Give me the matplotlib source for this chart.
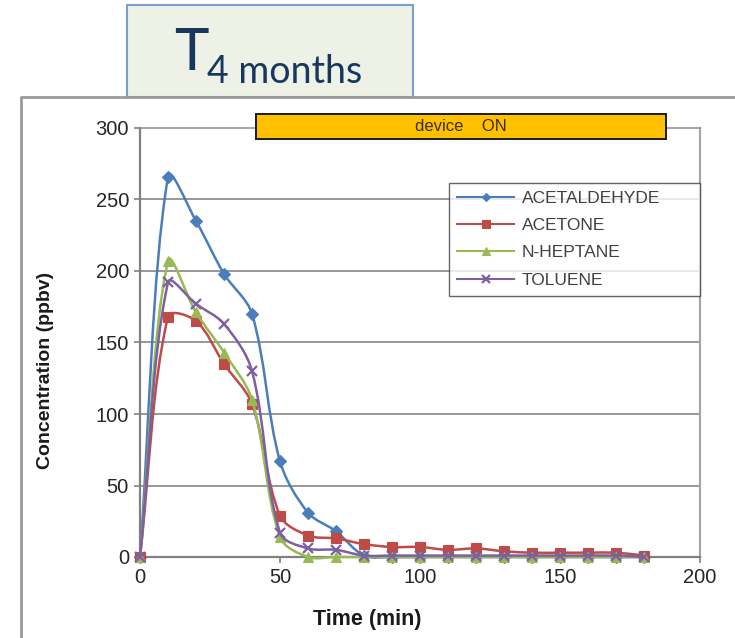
import numpy as np
import matplotlib
matplotlib.use("Agg")
import matplotlib.pyplot as plt
from matplotlib.path import Path
from matplotlib.patches import PathPatch, Rectangle
from matplotlib.lines import Line2D

plt.rcParams["font.family"] = ["Liberation Sans", "DejaVu Sans"]

# Data
time_min = [0, 10, 20, 30, 40, 50, 60, 70, 80, 90, 100, 110, 120, 130, 140, 150, 160, 170, 180]
acetaldehyde = [0, 266, 235, 198, 170, 67, 31, 18, 1, 0, 0, 0, 0, 0, 0, 0, 0, 0, 0]
acetone = [0, 168, 165, 135, 107, 29, 15, 13, 9, 7, 7, 5, 6, 4, 3, 3, 3, 3, 1]
n_heptane = [0, 207, 171, 143, 110, 14, 0, 0, 0, 0, 0, 0, 0, 0, 0, 0, 0, 0, 0]
toluene = [0, 192, 177, 163, 130, 17, 6, 5, 1, 1, 1, 1, 1, 1, 1, 1, 1, 1, 0]

series_names = ["ACETALDEHYDE", "ACETONE", "N-HEPTANE", "TOLUENE"]
series_values = [acetaldehyde, acetone, n_heptane, toluene]
series_colors = ["#4A7EBB", "#BE4B48", "#98B954", "#7D60A0"]
series_markers = ["D", "s", "^", "x"]
series_msize = [6, 7.5, 7, 7]

device_on = (41.6, 187.9)   # minutes, span of the "device ON" bar
y_ticks = [0, 50, 100, 150, 200, 250, 300]
x_ticks = [0, 50, 100, 150, 200]


def smooth_path(ax, xs, ys):
    # Excel-like smoothed line: cubic Bezier with length-weighted tangents
    pts = ax.transData.transform(np.column_stack([xs, ys]))
    n = len(pts)
    verts = [pts[0]]
    codes = [Path.MOVETO]
    for i in range(n - 1):
        p0 = pts[i - 1] if i > 0 else pts[i]
        p1, p2 = pts[i], pts[i + 1]
        p3 = pts[i + 2] if i + 2 < n else pts[i + 1]
        d01 = np.linalg.norm(p1 - p0)
        d12 = np.linalg.norm(p2 - p1)
        d23 = np.linalg.norm(p3 - p2)
        f1 = d12 / (d01 + d12) / 3 if d01 + d12 > 0 else 0
        f2 = d12 / (d12 + d23) / 3 if d12 + d23 > 0 else 0
        c1 = p1 + (p2 - p0) * f1
        c2 = p2 - (p3 - p1) * f2
        verts += [c1, c2, p2]
        codes += [Path.CURVE4] * 3
    verts = ax.transData.inverted().transform(np.array(verts))
    return Path(verts, codes)


fig = plt.figure(figsize=(7.35, 6.38), dpi=100)
ax = fig.add_axes([140 / 735, 81 / 638, 560 / 735, 429 / 638])
ax.set_xlim(0, 200)
ax.set_ylim(0, 300)
ax.set_xticks(x_ticks)
ax.set_yticks(y_ticks)
ax.tick_params(axis="both", direction="out", length=4, width=1.2, color="#808080",
               labelsize=14.5, labelcolor="#262626", pad=4)

for y in y_ticks[1:-1]:
    ax.axhline(y, color="#7a7a7a", lw=1.1, zorder=1)
ax.spines["left"].set_color("#808080")
ax.spines["left"].set_linewidth(1.6)
ax.spines["bottom"].set_color("#808080")
ax.spines["bottom"].set_linewidth(1.6)
ax.spines["right"].set_color("#a6a6a6")
ax.spines["right"].set_linewidth(1.6)
ax.spines["top"].set_color("#8c8c8c")
ax.spines["top"].set_linewidth(1.1)

handles = []
for k, (name, vals, col, mk, ms) in enumerate(zip(series_names, series_values, series_colors,
                                                  series_markers, series_msize)):
    path = smooth_path(ax, time_min, vals)
    ax.add_patch(PathPatch(path, facecolor="none", edgecolor=col, lw=1.8,
                           zorder=3 + k, clip_on=False))
    mew = 1.6 if mk == "x" else 0.8
    ax.plot(time_min, vals, linestyle="none", marker=mk, ms=ms, color=col,
            mec=col, mew=mew, zorder=3 + k, clip_on=False)
    handles.append(Line2D([], [], color=col, lw=1.5, marker=mk,
                          ms=ms * 0.75, mew=mew, label=name))

leg = ax.legend(handles=handles, loc="upper left",
                bbox_to_anchor=(0.552, 0.608, 0.448, 0.264), mode="expand",
                fontsize=12.5, frameon=True, fancybox=False, borderpad=0.45,
                labelspacing=0.7, handlelength=3.3, handletextpad=0.45,
                borderaxespad=0)
leg.get_frame().set_edgecolor("#404040")
leg.get_frame().set_linewidth(1.0)
for t in leg.get_texts():
    t.set_color("#404040")
leg.set_zorder(10)

# device ON bar
ax.add_patch(Rectangle((device_on[0], 292.3), device_on[1] - device_on[0], 17.5,
                       facecolor="#FFC000", edgecolor="#1a1a1a", lw=1.4,
                       clip_on=False, zorder=11))
ax.text(sum(device_on) / 2, 300.8, "device    ON", ha="center", va="center",
        fontsize=12, color="#3a3000", zorder=12, clip_on=False)

# axis titles
fig.text(367 / 735, 1 - 619 / 638, "Time (min)", ha="center", va="center",
         fontsize=15.5, fontweight="bold", color="#1a1a1a")
fig.text(46 / 735, 1 - 370 / 638, "Concentration (ppbv)", ha="center", va="center",
         rotation=90, fontsize=14, fontweight="bold", color="#1a1a1a")

# outer chart frame
fig.add_artist(Line2D([21 / 735, 21 / 735, 1.0], [0.0, 1 - 97 / 638, 1 - 97 / 638],
                      transform=fig.transFigure, color="#9a9a9a", lw=2))

# title box
fig.add_artist(Rectangle((127 / 735, 1 - 97 / 638), 286 / 735, 92 / 638,
                         transform=fig.transFigure, facecolor="#EEF1E5",
                         edgecolor="#7BA0CF", lw=1.5))
fig.text(174 / 735, 1 - 70 / 638, "T", ha="left", va="baseline",
         fontsize=42, color="#17375E", family=["Lato", "DejaVu Sans"])
fig.text(207 / 735, 1 - 83 / 638, "4 months", ha="left", va="baseline",
         fontsize=27, color="#17375E", family=["Lato", "DejaVu Sans"])

fig.savefig("out.png", dpi=100)
